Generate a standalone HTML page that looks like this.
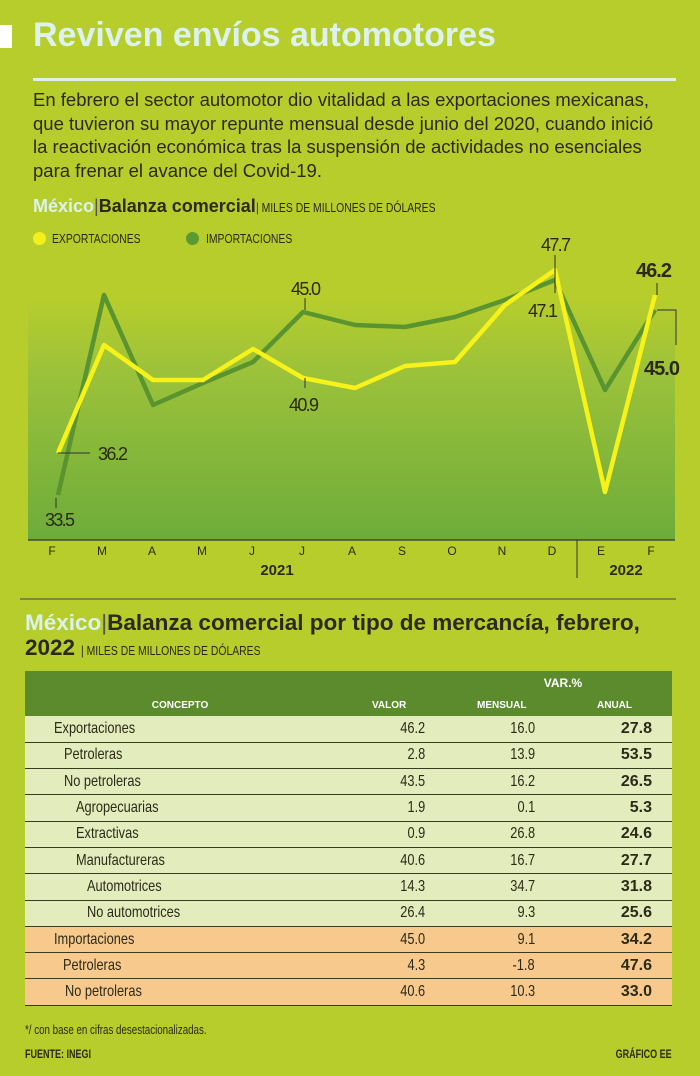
<!DOCTYPE html>
<html><head><meta charset="utf-8"><style>
*{margin:0;padding:0;box-sizing:border-box}
body{width:700px;height:1076px;background:#b6cd2c;position:relative;overflow:hidden;font-family:"Liberation Sans",sans-serif;color:#2b2a18}
.a{position:absolute;white-space:nowrap}
.t{font-family:"Liberation Sans",sans-serif;font-weight:bold}
.c{display:inline-block;transform:scaleX(0.8);transform-origin:left center}
.cr{display:inline-block;transform:scaleX(0.8);transform-origin:right center}
table{position:absolute;left:25px;top:671px;width:647px;border-collapse:collapse;font-size:16px}
td{height:26.3px;border-bottom:1.5px solid #3a3a20;padding:0}
td.n{text-align:right}
.e td{background:#e3ecbd}.i td{background:#f8c98c}
b{font-weight:bold}
</style></head><body>
<div class="a" style="left:0;top:25px;width:12px;height:23px;background:#fff"></div>
<div class="a t" style="left:33px;top:16px;font-size:34px;color:#dcf2ee">Reviven envíos automotores</div>
<div class="a" style="left:33px;top:78px;width:643px;height:3px;background:#dcf2ee"></div>
<div class="a" style="left:33px;top:88px;font-size:18.5px;line-height:23.5px">En febrero el sector automotor dio vitalidad a las exportaciones mexicanas,<br>que tuvieron su mayor repunte mensual desde junio del 2020, cuando inició<br>la reactivación económica tras la suspensión de actividades no esenciales<br>para frenar el avance del Covid-19.</div>
<div class="a" style="left:33px;top:196px;font-size:18px"><span class="t" style="color:#dcf2ee">México</span><span style="color:#555">|</span><span class="t">Balanza comercial</span><span class="c" style="font-size:13px">| MILES DE MILLONES DE DÓLARES</span></div>
<div class="a" style="left:33px;top:232px;width:13px;height:13px;border-radius:50%;background:#f4f01a"></div>
<div class="a" style="left:52px;top:231px;font-size:13px"><span class="c">EXPORTACIONES</span></div>
<div class="a" style="left:186px;top:232px;width:13px;height:13px;border-radius:50%;background:#5a9a30"></div>
<div class="a" style="left:206px;top:231px;font-size:13px"><span class="c">IMPORTACIONES</span></div>
<svg class="a" style="left:0;top:0" width="700" height="600">
<defs><linearGradient id="g" x1="0" y1="0" x2="0" y2="1"><stop offset="0" stop-color="#b6cd2c"/><stop offset="0.3" stop-color="#9cc23a"/><stop offset="1" stop-color="#6dac3a"/></linearGradient></defs>
<rect x="28" y="300" width="647" height="240" fill="url(#g)"/>
<line x1="28" y1="540" x2="675" y2="540" stroke="#333" stroke-width="1.2"/>
<line x1="577" y1="540" x2="577" y2="578" stroke="#333" stroke-width="1"/>
<line x1="20" y1="599" x2="676" y2="599" stroke="#444" stroke-width="1"/>
<polyline fill="none" stroke="#5a9430" stroke-width="4.5" stroke-linejoin="round" points="58,495 104,295 153,405 203,383 253,362 303,312 355,325 405,327 455,317 505,300 555,280 605,390 655,310"/>
<polyline fill="none" stroke="#f6f21a" stroke-width="4.5" stroke-linejoin="round" points="58,453 104,345 153,380 203,380 253,349 303,378 355,388 405,366 455,362 505,305 555,270 605,492 655,295"/>
<g stroke="#333" stroke-width="1" fill="none">
<line x1="58" y1="453" x2="90" y2="453"/><line x1="56" y1="498" x2="56" y2="508"/>
<line x1="305" y1="298" x2="305" y2="310"/><line x1="305" y1="378" x2="305" y2="388"/>
<line x1="555" y1="255" x2="555" y2="293"/><line x1="657" y1="283" x2="657" y2="295"/>
<polyline points="657,310 676,310 676,345"/>
</g>
<g font-family="Liberation Sans,sans-serif" font-size="18" fill="#2b2a18">
<text x="98" y="460" textLength="30">36.2</text><text x="45" y="526" textLength="30">33.5</text>
<text x="291" y="295" textLength="30">45.0</text><text x="289" y="411" textLength="30">40.9</text>
<text x="541" y="251" textLength="30">47.7</text><text x="528" y="317" textLength="30">47.1</text>
<text x="636" y="277" font-weight="bold" font-size="20" textLength="36">46.2</text>
<text x="644" y="375" font-weight="bold" font-size="20" textLength="36">45.0</text>
</g>
<g font-family="Liberation Sans,sans-serif" font-size="12" fill="#2b2a18" text-anchor="middle">
<text x="52" y="555">F</text><text x="102" y="555">M</text><text x="152" y="555">A</text><text x="202" y="555">M</text><text x="252" y="555">J</text><text x="302" y="555">J</text><text x="352" y="555">A</text><text x="402" y="555">S</text><text x="452" y="555">O</text><text x="502" y="555">N</text><text x="552" y="555">D</text><text x="601" y="555">E</text><text x="651" y="555">F</text>
<text x="277" y="575" font-weight="bold" font-size="15">2021</text><text x="626" y="575" font-weight="bold" font-size="15">2022</text>
</g>
</svg>
<div class="a" style="left:25px;top:610px;font-size:22.5px;line-height:25px"><span class="t" style="color:#dcf2ee">México</span><span style="color:#555">|</span><span class="t">Balanza comercial por tipo de mercancía, febrero,</span><br><span class="t">2022</span> <span class="c" style="font-size:13px">| MILES DE MILLONES DE DÓLARES</span></div>
<div class="a" style="left:25px;top:671px;width:647px;height:45px;background:#5b8b2d"></div>
<div class="a t" style="left:538px;top:676px;font-size:12px;color:#fff;width:50px;text-align:center">VAR.%</div>
<div class="a t" style="left:110px;top:700px;font-size:10px;color:#fff;width:140px;text-align:center">CONCEPTO</div>
<div class="a t" style="left:372px;top:700px;font-size:10px;color:#fff">VALOR</div>
<div class="a t" style="left:477px;top:700px;font-size:10px;color:#fff">MENSUAL</div>
<div class="a t" style="left:597px;top:700px;font-size:10px;color:#fff">ANUAL</div>
<table style="top:716px">
<tr class="e"><td style="padding-left:29px"><span class="c">Exportaciones</span></td><td class="n" style="width:70px"><span class="cr">46.2</span></td><td class="n" style="width:110px"><span class="cr">16.0</span></td><td class="n" style="width:137px;padding-right:20px"><b>27.8</b></td></tr>
<tr class="e"><td style="padding-left:39px"><span class="c">Petroleras</span></td><td class="n"><span class="cr">2.8</span></td><td class="n"><span class="cr">13.9</span></td><td class="n" style="padding-right:20px"><b>53.5</b></td></tr>
<tr class="e"><td style="padding-left:39px"><span class="c">No petroleras</span></td><td class="n"><span class="cr">43.5</span></td><td class="n"><span class="cr">16.2</span></td><td class="n" style="padding-right:20px"><b>26.5</b></td></tr>
<tr class="e"><td style="padding-left:51px"><span class="c">Agropecuarias</span></td><td class="n"><span class="cr">1.9</span></td><td class="n"><span class="cr">0.1</span></td><td class="n" style="padding-right:20px"><b>5.3</b></td></tr>
<tr class="e"><td style="padding-left:51px"><span class="c">Extractivas</span></td><td class="n"><span class="cr">0.9</span></td><td class="n"><span class="cr">26.8</span></td><td class="n" style="padding-right:20px"><b>24.6</b></td></tr>
<tr class="e"><td style="padding-left:51px"><span class="c">Manufactureras</span></td><td class="n"><span class="cr">40.6</span></td><td class="n"><span class="cr">16.7</span></td><td class="n" style="padding-right:20px"><b>27.7</b></td></tr>
<tr class="e"><td style="padding-left:62px"><span class="c">Automotrices</span></td><td class="n"><span class="cr">14.3</span></td><td class="n"><span class="cr">34.7</span></td><td class="n" style="padding-right:20px"><b>31.8</b></td></tr>
<tr class="e"><td style="padding-left:62px"><span class="c">No automotrices</span></td><td class="n"><span class="cr">26.4</span></td><td class="n"><span class="cr">9.3</span></td><td class="n" style="padding-right:20px"><b>25.6</b></td></tr>
<tr class="i"><td style="padding-left:29px"><span class="c">Importaciones</span></td><td class="n"><span class="cr">45.0</span></td><td class="n"><span class="cr">9.1</span></td><td class="n" style="padding-right:20px"><b>34.2</b></td></tr>
<tr class="i"><td style="padding-left:38px"><span class="c">Petroleras</span></td><td class="n"><span class="cr">4.3</span></td><td class="n"><span class="cr">-1.8</span></td><td class="n" style="padding-right:20px"><b>47.6</b></td></tr>
<tr class="i"><td style="padding-left:40px"><span class="c">No petroleras</span></td><td class="n"><span class="cr">40.6</span></td><td class="n"><span class="cr">10.3</span></td><td class="n" style="padding-right:20px"><b>33.0</b></td></tr>
</table>
<div class="a" style="left:25px;top:1022px;font-size:13px"><span class="c" style="transform:scaleX(0.75)">*/ con base en cifras desestacionalizadas.</span></div>
<div class="a" style="left:25px;top:1047px;font-size:12px;font-weight:bold"><span class="c" style="transform:scaleX(0.75)">FUENTE: INEGI</span></div>
<div class="a" style="right:28px;top:1047px;font-size:12px;font-weight:bold"><span class="cr" style="transform:scaleX(0.75)">GRÁFICO EE</span></div>
</body></html>
